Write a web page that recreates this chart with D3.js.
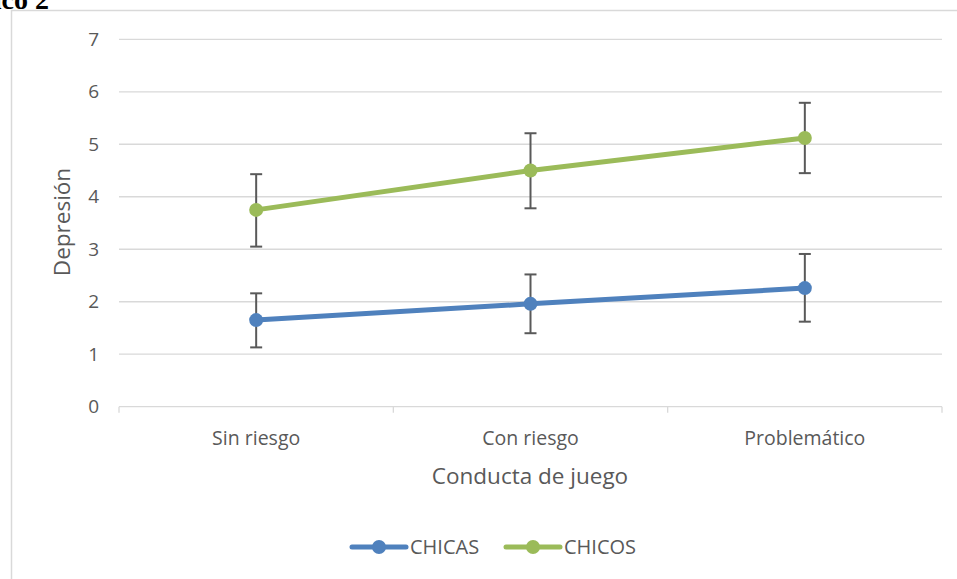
<!DOCTYPE html>
<html>
<head>
<meta charset="utf-8">
<script src="https://cdn.jsdelivr.net/npm/d3@7"></script>
<style>
  html, body { margin: 0; padding: 0; background: #fff; }
  svg { display: block; }
</style>
</head>
<body>
<svg id="chart" width="957" height="579"></svg>
<script>
// Categories of gambling behaviour
const categories = ["Sin riesgo", "Con riesgo", "Problemático"];
// Mean depression score per group
const chicas = [1.65, 1.96, 2.26];
const chicos = [3.75, 4.50, 5.12];
// Error bar limits (upper, lower)
const chicasUpper = [2.16, 2.52, 2.91];
const chicasLower = [1.13, 1.40, 1.62];
const chicosUpper = [4.43, 5.21, 5.79];
const chicosLower = [3.05, 3.78, 4.45];
const yTicks = [0, 1, 2, 3, 4, 5, 6, 7];
const seriesNames = ["CHICAS", "CHICOS"];

const colors = { CHICAS: "#4F81BD", CHICOS: "#9BBB59" };
const font = "'Open Sans', 'Liberation Sans', sans-serif";

const svg = d3.select("#chart");

// Heading partly outside the page
svg.append("text")
  .attr("x", 49).attr("y", 9)
  .attr("text-anchor", "end")
  .attr("font-family", "'Liberation Serif', 'Times New Roman', serif")
  .attr("font-weight", "bold")
  .attr("font-size", 28)
  .attr("fill", "#000")
  .text("Gráfico 2");

// Chart frame
svg.append("path")
  .attr("d", "M11.5,579 L11.5,10.5 L957,10.5")
  .attr("fill", "none")
  .attr("stroke", "#d9d9d9")
  .attr("stroke-width", 1.5);

const plot = { left: 119, right: 942, top: 39.3, bottom: 406.7 };

const x = d3.scaleBand().domain(categories).range([plot.left, plot.right]).padding(0);
const y = d3.scaleLinear().domain([0, 7]).range([plot.bottom, plot.top]);

// Horizontal gridlines
svg.append("g")
  .selectAll("line")
  .data(yTicks.filter(t => t > 0))
  .join("line")
  .attr("x1", plot.left).attr("x2", plot.right)
  .attr("y1", d => y(d)).attr("y2", d => y(d))
  .attr("stroke", "#d9d9d9").attr("stroke-width", 1.3);

// Y axis labels
const yAxis = d3.axisLeft(y).tickValues(yTicks).tickSize(0).tickPadding(20).tickFormat(d3.format("d"));
const gy = svg.append("g").attr("transform", `translate(${plot.left},0)`).call(yAxis);
gy.select(".domain").remove();
gy.selectAll("text")
  .attr("font-family", font).attr("font-size", 19).attr("fill", "#595959");

// X axis with category-boundary ticks
const gx = svg.append("g").attr("transform", `translate(0,${plot.bottom})`);
gx.append("line")
  .attr("x1", plot.left).attr("x2", plot.right)
  .attr("stroke", "#d9d9d9").attr("stroke-width", 1.3);
const bounds = categories.map(c => x(c)).concat([x(categories[categories.length - 1]) + x.bandwidth()]);
gx.selectAll("line.tk")
  .data(bounds)
  .join("line").attr("class", "tk")
  .attr("x1", d => d).attr("x2", d => d)
  .attr("y1", 0).attr("y2", 6)
  .attr("stroke", "#d9d9d9").attr("stroke-width", 1.3);
gx.selectAll("text")
  .data(categories)
  .join("text")
  .attr("x", d => x(d) + x.bandwidth() / 2)
  .attr("y", 38)
  .attr("text-anchor", "middle")
  .attr("font-family", font).attr("font-size", 19.5).attr("fill", "#595959")
  .text(d => d);

// Axis titles
svg.append("text")
  .attr("transform", "translate(70,222) rotate(-90)")
  .attr("text-anchor", "middle")
  .attr("font-family", font).attr("font-size", 22.5).attr("fill", "#595959")
  .text("Depresión");
svg.append("text")
  .attr("x", 530).attr("y", 484)
  .attr("text-anchor", "middle")
  .attr("font-family", font).attr("font-size", 22.5).attr("fill", "#595959")
  .text("Conducta de juego");

const cx = c => x(c) + x.bandwidth() / 2;

const series = [
  { name: "CHICAS", values: chicas, upper: chicasUpper, lower: chicasLower },
  { name: "CHICOS", values: chicos, upper: chicosUpper, lower: chicosLower }
];

const line = d3.line().x(d => cx(d.cat)).y(d => y(d.v));

series.forEach(s => {
  const pts = categories.map((c, i) => ({ cat: c, v: s.values[i], hi: s.upper[i], lo: s.lower[i] }));
  const g = svg.append("g");
  g.append("path")
    .datum(pts)
    .attr("d", line)
    .attr("fill", "none")
    .attr("stroke", colors[s.name])
    .attr("stroke-width", 5)
    .attr("stroke-linecap", "round");
  // error bars
  const eb = g.selectAll("g.eb").data(pts).join("g").attr("class", "eb");
  eb.append("line")
    .attr("x1", d => cx(d.cat)).attr("x2", d => cx(d.cat))
    .attr("y1", d => y(d.hi)).attr("y2", d => y(d.lo))
    .attr("stroke", "#595959").attr("stroke-width", 2);
  eb.append("line")
    .attr("x1", d => cx(d.cat) - 6).attr("x2", d => cx(d.cat) + 6)
    .attr("y1", d => y(d.hi)).attr("y2", d => y(d.hi))
    .attr("stroke", "#595959").attr("stroke-width", 2);
  eb.append("line")
    .attr("x1", d => cx(d.cat) - 6).attr("x2", d => cx(d.cat) + 6)
    .attr("y1", d => y(d.lo)).attr("y2", d => y(d.lo))
    .attr("stroke", "#595959").attr("stroke-width", 2);
  g.selectAll("circle").data(pts).join("circle")
    .attr("cx", d => cx(d.cat)).attr("cy", d => y(d.v))
    .attr("r", 7)
    .attr("fill", colors[s.name]);
});

// Legend
const legendY = 547;
const legendItems = [
  { name: seriesNames[0], x0: 352 },
  { name: seriesNames[1], x0: 506 }
];
const lg = svg.append("g");
legendItems.forEach(it => {
  lg.append("line")
    .attr("x1", it.x0).attr("x2", it.x0 + 54)
    .attr("y1", legendY).attr("y2", legendY)
    .attr("stroke", colors[it.name]).attr("stroke-width", 5)
    .attr("stroke-linecap", "round");
  lg.append("circle")
    .attr("cx", it.x0 + 27).attr("cy", legendY).attr("r", 7)
    .attr("fill", colors[it.name]);
  lg.append("text")
    .attr("x", it.x0 + 58).attr("y", legendY + 7)
    .attr("font-family", font).attr("font-size", 20).attr("fill", "#595959")
    .text(it.name);
});
</script>
</body>
</html>
